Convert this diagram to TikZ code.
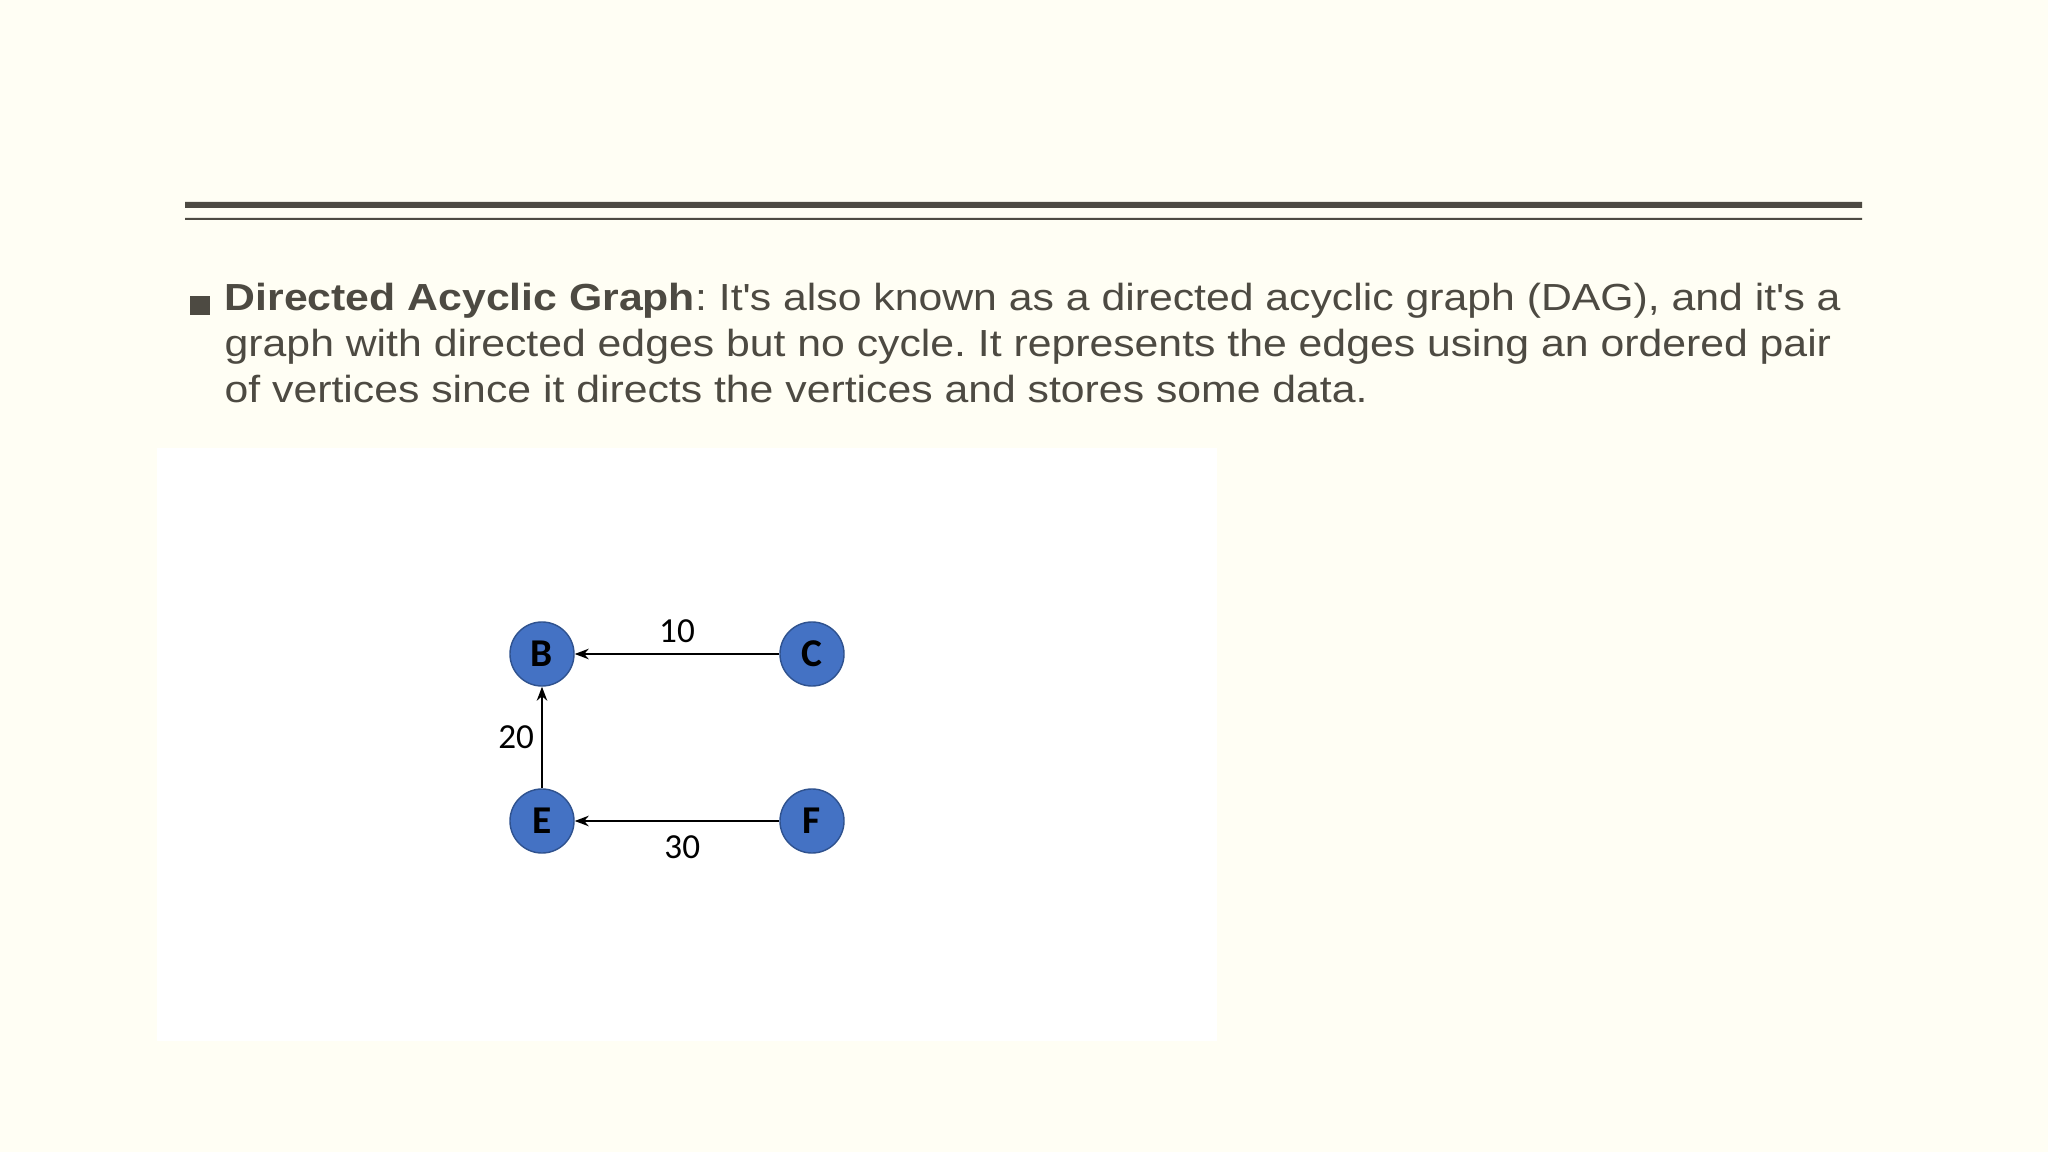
\documentclass[tikz,border=0pt]{standalone}
\usepackage{fontspec}
\setmainfont[FakeStretch=1.133]{Liberation Sans}
\newfontfamily\calibri{Carlito}
\usepackage{xcolor}
\usetikzlibrary{arrows.meta, positioning}

\definecolor{slidebg}{RGB}{255,254,244}
\definecolor{slideink}{RGB}{77,74,66}
\definecolor{vertexblue}{RGB}{68,114,196}
\definecolor{vertexline}{RGB}{47,82,143}

\newcommand{\apos}{\textquotesingle}

\tikzset{
    bodyline/.style={anchor=base west, inner sep=0pt, text=slideink,
        font=\frenchspacing\fontsize{10.73}{13.1}\selectfont},
    vertex/.style={circle, fill=vertexblue, draw=vertexline, line width=0.4pt,
        minimum size=0.64cm, inner sep=0pt, font=\calibri\bfseries\fontsize{11.2}{13}\selectfont},
    edgelabel/.style={font=\calibri\fontsize{10}{12}\selectfont, inner sep=1pt},
    arc/.style={-{Stealth[length=4pt,width=3pt]}, line width=0.55pt}
}

\begin{document}
\begin{tikzpicture}[x=0.01cm, y=-0.01cm]
                    \fill[slidebg] (0, 0) rectangle (2048, 1152);
                    \useasboundingbox (0, 0) rectangle (2048, 1152);

                    % rules at the top
                    \fill[slideink]
                    (185, 202) rectangle (1862, 208)
                    (185, 218) rectangle (1862, 220);

                    % bullet and text
                    \fill[slideink] (190, 296) rectangle (210, 315);
                    \node[bodyline] (line1) at (224, 311)
                    {\textbf{Directed Acyclic Graph}: It\apos s also known as a directed acyclic graph (DAG), and it\apos s a};
                    \node[bodyline] (line2) at (224, 357)
                    {graph with directed edges but no cycle. It represents the edges using an ordered pair};
                    \node[bodyline] (line3) at (224, 403)
                    {of vertices since it directs the vertices and stores some data.};

                    % white panel with the graph
                    \fill[white] (157, 448) rectangle (1217, 1041);

                    \node[vertex] (B) at (542, 654) {B};
                    \node[vertex] (C) at (812, 654) {C};
                    \node[vertex] (E) at (542, 821) {E};
                    \node[vertex] (F) at (812, 821) {F};

                    \draw[arc] (C) -- node[edgelabel, above=2pt] (w10) {10} (B);
                    \draw[arc] (E) -- node[edgelabel, left=1pt] (w20) {20} (B);
                    \draw[arc] (F) -- node[edgelabel, below=3pt, xshift=1.5pt] (w30) {30} (E);
                \end{tikzpicture}
\end{document}
